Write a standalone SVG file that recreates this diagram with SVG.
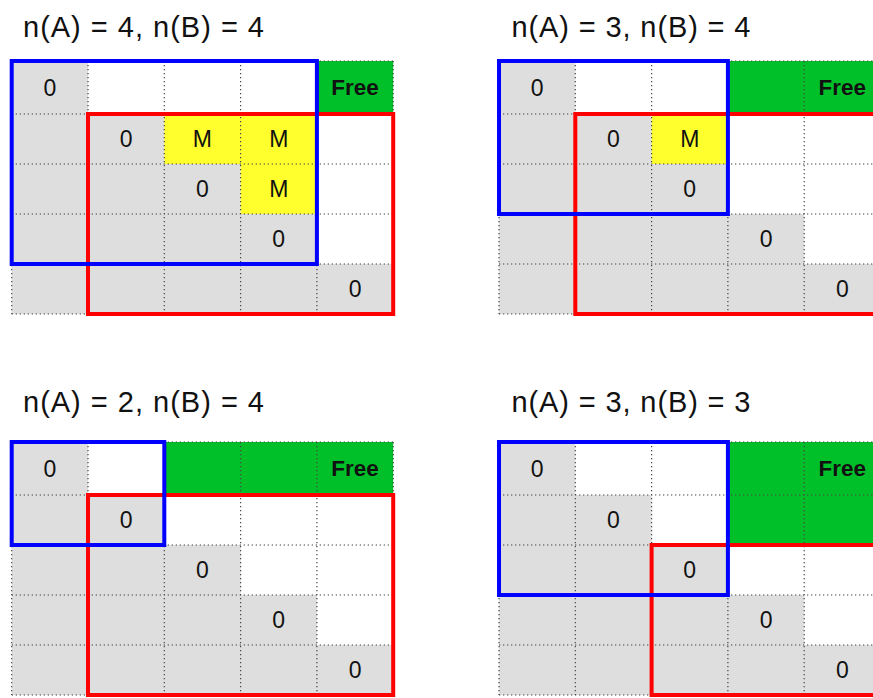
<svg xmlns="http://www.w3.org/2000/svg" xmlns:xlink="http://www.w3.org/1999/xlink" width="873" height="698" viewBox="0 0 873 698">
  <style>
    .title { font-family: "Liberation Sans", Arial, sans-serif; font-size: 29px; fill: #111; }
    .val { font-family: "Liberation Sans", Arial, sans-serif; font-size: 23px; fill: #111; text-anchor: middle; }
    .free { font-family: "Liberation Sans", Arial, sans-serif; font-size: 22.5px; font-weight: bold; fill: #111; text-anchor: middle; }
    .gray { fill: #dedede; }
    .yellow { fill: #ffff2e; }
    .green { fill: #00c02a; }
    .dots { fill: none; stroke: #444; stroke-width: 1.2; stroke-dasharray: 1.3 2.7; }
    .setA { fill: none; stroke: #0000ff; stroke-width: 4; }
    .setB { fill: none; stroke: #ff0000; stroke-width: 4; }
  </style>
  <defs>
    <!-- lower triangle (diagonal included) of the 5x5 table -->
    <g id="lower">
      <rect class="gray" x="0" y="0" width="76.3" height="53"/>
      <rect class="gray" x="0" y="53" width="152.6" height="50"/>
      <rect class="gray" x="0" y="103" width="228.9" height="50"/>
      <rect class="gray" x="0" y="153" width="305.2" height="50"/>
      <rect class="gray" x="0" y="203" width="381.5" height="50"/>
    </g>
    <!-- dotted cell borders -->
    <path id="grid" class="dots" d="M0 0H381.5M0 53H381.5M0 103H381.5M0 153H381.5M0 203H381.5M0 253H381.5M0 0V253M76.3 0V253M152.6 0V253M228.9 0V253M305.2 0V253M381.5 0V253"/>
    <!-- zeros on the diagonal -->
    <g id="diag">
      <text class="val" x="38.15" y="34.5">0</text>
      <text class="val" x="114.45" y="86">0</text>
      <text class="val" x="190.75" y="136">0</text>
      <text class="val" x="267.05" y="186">0</text>
      <text class="val" x="343.35" y="236">0</text>
    </g>
  </defs>

  <rect width="873" height="698" fill="#fff"/>

  <!-- titles -->
  <g id="titles">
    <text class="title" x="23" y="37" textLength="241" lengthAdjust="spacing">n(A) = 4, n(B) = 4</text>
    <text class="title" x="511.5" y="37" textLength="239" lengthAdjust="spacing">n(A) = 3, n(B) = 4</text>
    <text class="title" x="23" y="412" textLength="241" lengthAdjust="spacing">n(A) = 2, n(B) = 4</text>
    <text class="title" x="511.5" y="412" textLength="239" lengthAdjust="spacing">n(A) = 3, n(B) = 3</text>
  </g>

  <!-- n(A)=4, n(B)=4 -->
  <g id="table-a4-b4" transform="translate(11.7,61)">
    <use xlink:href="#lower"/>
    <rect class="yellow" x="152.6" y="53" width="152.6" height="50"/>
    <rect class="yellow" x="228.9" y="103" width="76.3" height="50"/>
    <rect class="green" x="305.2" y="0" width="76.3" height="53"/>
    <use xlink:href="#grid"/>
    <use xlink:href="#diag"/>
    <text class="val" x="190.75" y="86">M</text>
    <text class="val" x="267.05" y="86">M</text>
    <text class="val" x="267.05" y="136">M</text>
    <text class="free" x="343.35" y="34">Free</text>
    <g id="bounds-a4-b4">
      <rect class="setB" x="76.3" y="53" width="305.2" height="200"/>
      <rect class="setA" x="0" y="0" width="305.2" height="203"/>
    </g>
  </g>

  <!-- n(A)=3, n(B)=4 -->
  <g id="table-a3-b4" transform="translate(499,61)">
    <use xlink:href="#lower"/>
    <rect class="yellow" x="152.6" y="53" width="76.3" height="50"/>
    <rect class="green" x="228.9" y="0" width="152.6" height="53"/>
    <use xlink:href="#grid"/>
    <use xlink:href="#diag"/>
    <text class="val" x="190.75" y="86">M</text>
    <text class="free" x="343.35" y="34">Free</text>
    <g id="bounds-a3-b4">
      <rect class="setB" x="76.3" y="53" width="305.2" height="200"/>
      <rect class="setA" x="0" y="0" width="228.9" height="153"/>
    </g>
  </g>

  <!-- n(A)=2, n(B)=4 -->
  <g id="table-a2-b4" transform="translate(11.7,442)">
    <use xlink:href="#lower"/>
    <rect class="green" x="152.6" y="0" width="228.9" height="53"/>
    <use xlink:href="#grid"/>
    <use xlink:href="#diag"/>
    <text class="free" x="343.35" y="34">Free</text>
    <g id="bounds-a2-b4">
      <rect class="setB" x="76.3" y="53" width="305.2" height="200"/>
      <rect class="setA" x="0" y="0" width="152.6" height="103"/>
    </g>
  </g>

  <!-- n(A)=3, n(B)=3 -->
  <g id="table-a3-b3" transform="translate(499,442)">
    <use xlink:href="#lower"/>
    <rect class="green" x="228.9" y="0" width="152.6" height="103"/>
    <use xlink:href="#grid"/>
    <use xlink:href="#diag"/>
    <text class="free" x="343.35" y="34">Free</text>
    <g id="bounds-a3-b3">
      <rect class="setB" x="152.6" y="103" width="228.9" height="150"/>
      <rect class="setA" x="0" y="0" width="228.9" height="153"/>
    </g>
  </g>
</svg>
